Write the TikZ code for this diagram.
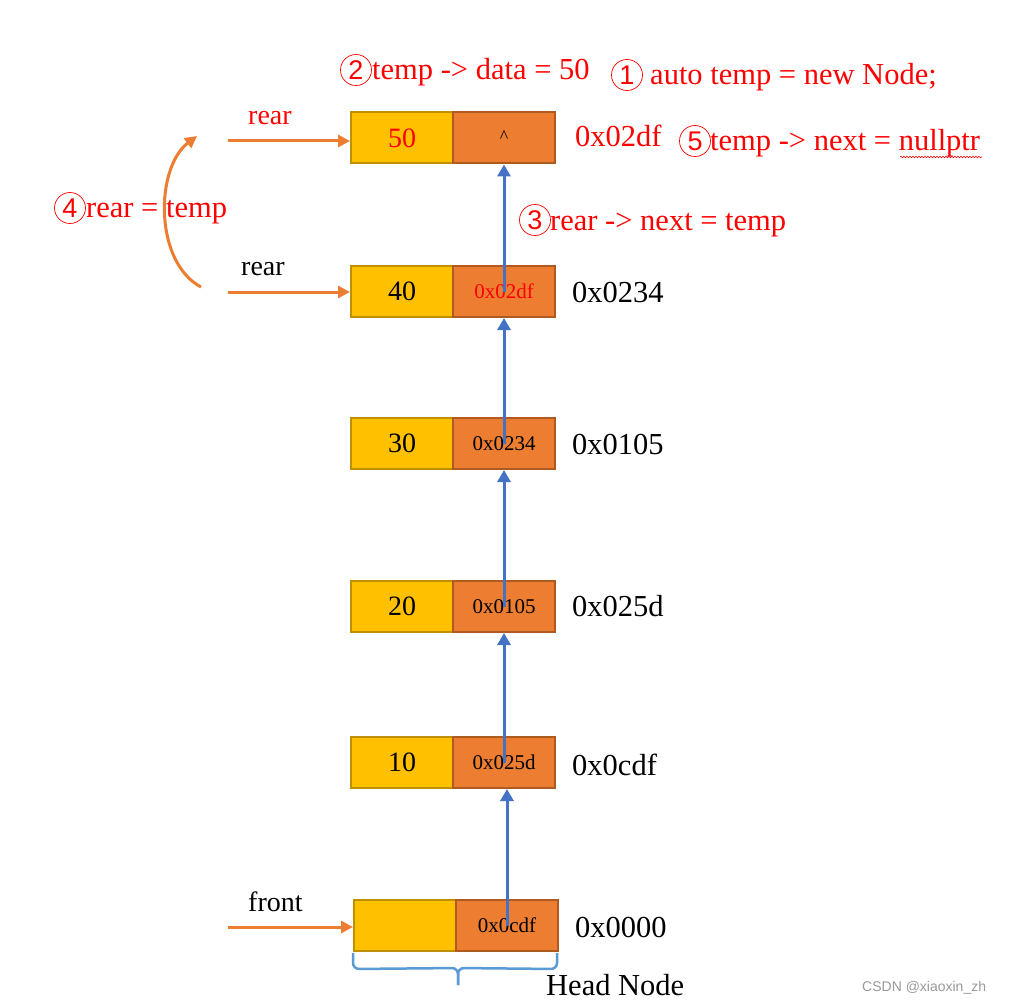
\documentclass[tikz,border=0pt]{standalone}
\usepackage{fontspec}
\setmainfont{Liberation Serif}
\newfontfamily\wmfont{Liberation Sans}
\usetikzlibrary{arrows.meta,decorations.pathmorphing}
\definecolor{cyel}{HTML}{FFC000}
\definecolor{cyelb}{HTML}{BF9000}
\definecolor{corg}{HTML}{ED7D31}
\definecolor{corgb}{HTML}{AE5A21}
\definecolor{cblue}{HTML}{4472C4}
\definecolor{cbrace}{HTML}{5B9BD5}
\definecolor{cred}{HTML}{FF0000}
\tikzset{
  datacell/.style={draw=cyelb,fill=cyel,line width=2pt,minimum width=102pt,minimum height=51pt,inner sep=0pt,font=\fontsize{28}{32}\selectfont},
  ptrcell/.style={draw=corgb,fill=corg,line width=2pt,minimum width=102pt,minimum height=51pt,inner sep=0pt,font=\fontsize{21}{24}\selectfont},
  txt/.style={anchor=base west,inner sep=0pt,font=\fontsize{30.5}{34}\selectfont},
  lbl/.style={anchor=base west,inner sep=0pt,font=\fontsize{28}{32}\selectfont},
  redtxt/.style={txt,text=cred},
  cnum/.style={circle,draw=cred,line width=0.7pt,minimum size=31pt,inner sep=0pt,text=cred,font=\wmfont\fontsize{27}{30}\selectfont},
  blueptr/.style={draw=cblue,line width=3pt,-{Triangle[width=13pt,length=12pt]}},
  orgptr/.style={draw=corg,line width=3pt,-{Triangle[width=12pt,length=12pt]}},
}
\begin{document}
\begin{tikzpicture}[x=1pt,y=-1pt]
\useasboundingbox[fill=white] (0,0) rectangle (1009,1003);
% nodes
\node[datacell,text=cred] (a50) at (402,138) {50};
\node[ptrcell] (b50) at (504,138) {};
\node[inner sep=0pt,font=\fontsize{18}{20}\selectfont] (caret) at (504,137) {\^{}};
\node[datacell] (a40) at (402,291.5) {40};
\node[ptrcell,text=cred] (b40) at (504,291.5) {0x02df};
\node[datacell] (a30) at (402,443.5) {30};
\node[ptrcell] (b30) at (504,443.5) {0x0234};
\node[datacell] (a20) at (402,606.5) {20};
\node[ptrcell] (b20) at (504,606.5) {0x0105};
\node[datacell] (a10) at (402,762.5) {10};
\node[ptrcell] (b10) at (504,762.5) {0x025d};
\node[datacell] (ah) at (405,925.5) {};
\node[ptrcell] (bh) at (507,925.5) {0x0cdf};
% blue pointers
\draw[blueptr] (bh.center) -- (bh.center |- b10.south);
\draw[blueptr] (b10.center) -- (b10.center |- b20.south);
\draw[blueptr] (b20.center) -- (b20.center |- b30.south);
\draw[blueptr] (b30.center) -- (b30.center |- b40.south);
\draw[blueptr] (b40.center) -- (b40.center |- b50.south);
% addresses
\node[redtxt] (ad50) at (575,147) {0x02df};
\node[txt] (ad40) at (572,302) {0x0234};
\node[txt] (ad30) at (572,454) {0x0105};
\node[txt] (ad20) at (572,616) {0x025d};
\node[txt] (ad10) at (572,775) {0x0cdf};
\node[txt] (adh) at (575,937) {0x0000};
% red statements
\node[cnum] (n2) at (356,70) {2};
\node[redtxt] (s2) at (372,80) {temp -> data = 50};
\node[cnum] (n1) at (627,75) {1};
\node[redtxt] (s1) at (650,85) {auto temp = new Node;};
\node[cnum] (n5) at (695,141) {5};
\node[redtxt] (s5) at (710,151) {temp -> next = nullptr};
\node[cnum] (n3) at (535,220) {3};
\node[redtxt] (s3) at (550,230) {rear -> next = temp};
\node[cnum] (n4) at (70,208) {4};
\node[redtxt] (s4) at (86,218) {rear = temp};
\draw[cred,line width=0.6pt,decorate,decoration={snake,amplitude=0.8pt,segment length=3pt}] (900,157) -- (982,157);
% rear / front pointers
\coordinate (r1) at (228,141);
\coordinate (r2) at (228,292);
\coordinate (f0) at (228,927);
\draw[orgptr] (r1) -- (r1 -| a50.west);
\draw[orgptr] (r2) -- (r2 -| a40.west);
\draw[orgptr] (f0) -- (f0 -| ah.west);
\node[lbl,text=cred] (l1) at (248,125) {rear};
\node[lbl] (l2) at (241,275) {rear};
\node[lbl] (l3) at (248,911) {front};
% curved arrow
\coordinate (c1) at (201,287);
\coordinate (c2) at (197,136);
\draw[orgptr] (c1) .. controls (154,262) and (155,168) .. (c2);
% brace
\draw[cbrace,line width=2.5pt,rounded corners=6pt] ([yshift=-1pt]ah.south west) -- ++(0,16) -- (458,968) -- (458,985);
\draw[cbrace,line width=2.5pt,rounded corners=6pt] ([yshift=-1pt]bh.south east) ++(-2,0) -- ++(0,16) -- (458,968) -- (458,985);
\node[txt] (hn) at (546,995) {Head Node};
% watermark
\node[anchor=base west,inner sep=0pt,text=black!40,font=\wmfont\fontsize{14}{16}\selectfont] (wm) at (862,991) {CSDN @xiaoxin\_zh};
\end{tikzpicture}
\end{document}
